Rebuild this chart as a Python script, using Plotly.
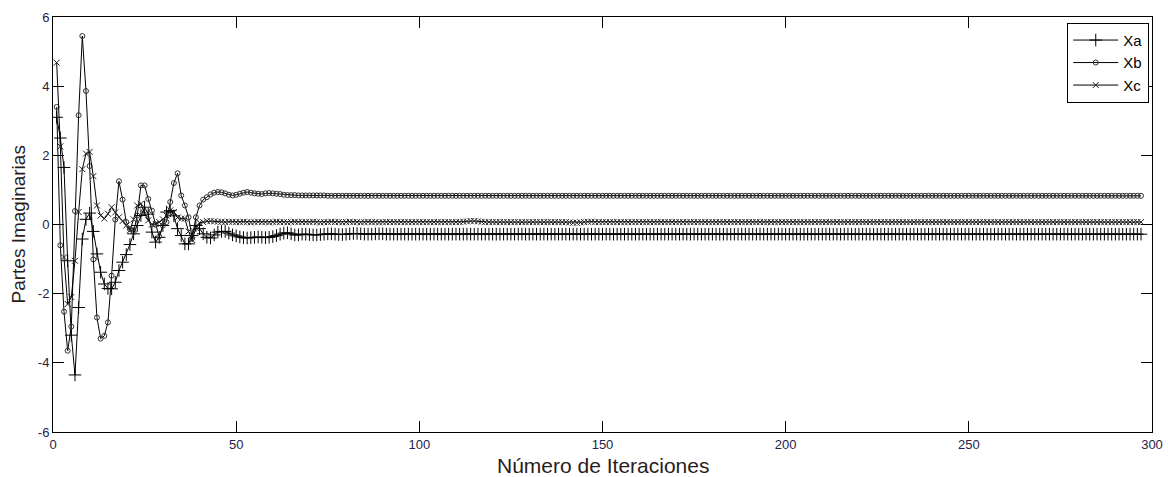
import plotly.graph_objects as go

# ---- data (iterations 1..297) ----
xa_vals = [
    3.1, 2.5, 1.65, -1.05, -3.2, -4.35, -2.4, -0.42, 0.15, 0.33,
    -0.2, -0.85, -1.38, -1.72, -1.85, -1.86, -1.67, -1.33, -1.09, -0.87,
    -0.58, -0.27, -0.03, 0.26, 0.5, 0.3, -0.22, -0.51, -0.37, -0.03,
    0.36, 0.4, 0.25, -0.12, -0.32, -0.56, -0.56, -0.32, -0.03, -0.12,
    -0.27, -0.37, -0.39, -0.3, -0.22, -0.2, -0.2, -0.25, -0.3, -0.33,
    -0.36, -0.38, -0.39, -0.38, -0.37, -0.36, -0.37, -0.38, -0.37, -0.35,
    -0.32, -0.28, -0.25, -0.24, -0.27, -0.3, -0.3, -0.28, -0.28, -0.29,
    -0.3, -0.3, -0.29, -0.28, -0.27, -0.27, -0.28, -0.29, -0.29, -0.28,
    -0.27, -0.26, -0.26, -0.27, -0.28, -0.28, -0.28, -0.27, -0.27, -0.27,
    -0.28, -0.28, -0.28, -0.28, -0.28, -0.28, -0.28, -0.28, -0.28, -0.28,
    -0.28, -0.28, -0.28, -0.28, -0.28, -0.28, -0.28, -0.28, -0.28, -0.28,
    -0.28, -0.28, -0.28, -0.28, -0.28, -0.28, -0.28, -0.28, -0.28, -0.28,
    -0.28, -0.28, -0.28, -0.28, -0.28, -0.28, -0.28, -0.28, -0.28, -0.28,
    -0.28, -0.28, -0.28, -0.28, -0.28, -0.28, -0.28, -0.28, -0.28, -0.28,
    -0.28, -0.28, -0.28, -0.28, -0.28, -0.28, -0.28, -0.28, -0.28, -0.28,
    -0.28, -0.28, -0.28, -0.28, -0.28, -0.28, -0.28, -0.28, -0.28, -0.28,
    -0.28, -0.28, -0.28, -0.28, -0.28, -0.28, -0.28, -0.28, -0.28, -0.28,
    -0.28, -0.28, -0.28, -0.28, -0.28, -0.28, -0.28, -0.28, -0.28, -0.28,
    -0.28, -0.28, -0.28, -0.28, -0.28, -0.28, -0.28, -0.28, -0.28, -0.28,
    -0.28, -0.28, -0.28, -0.28, -0.28, -0.28, -0.28, -0.28, -0.28, -0.28,
    -0.28, -0.28, -0.28, -0.28, -0.28, -0.28, -0.28, -0.28, -0.28, -0.28,
    -0.28, -0.28, -0.28, -0.28, -0.28, -0.28, -0.28, -0.28, -0.28, -0.28,
    -0.28, -0.28, -0.28, -0.28, -0.28, -0.28, -0.28, -0.28, -0.28, -0.28,
    -0.28, -0.28, -0.28, -0.28, -0.28, -0.28, -0.28, -0.28, -0.28, -0.28,
    -0.28, -0.28, -0.28, -0.28, -0.28, -0.28, -0.28, -0.28, -0.28, -0.28,
    -0.28, -0.28, -0.28, -0.28, -0.28, -0.28, -0.28, -0.28, -0.28, -0.28,
    -0.28, -0.28, -0.28, -0.28, -0.28, -0.28, -0.28, -0.28, -0.28, -0.28,
    -0.28, -0.28, -0.28, -0.28, -0.28, -0.28, -0.28, -0.28, -0.28, -0.28,
    -0.28, -0.28, -0.28, -0.28, -0.28, -0.28, -0.28, -0.28, -0.28, -0.28,
    -0.28, -0.28, -0.28, -0.28, -0.28, -0.28, -0.28,
]

xb_vals = [
    3.4, -0.6, -2.52, -3.65, -2.95, 0.39, 3.16, 5.45, 3.86, 1.69,
    -1.01, -2.69, -3.3, -3.22, -2.83, -1.48, 0.14, 1.25, 0.72, 0.07,
    -0.13, -0.22, 0.26, 1.13, 1.13, 0.74, 0.4, 0.0, -0.35, -0.03,
    0.07, 0.65, 1.2, 1.48, 0.84, 0.55, 0.21, -0.4, 0.21, 0.55,
    0.72, 0.79, 0.87, 0.92, 0.94, 0.93, 0.9, 0.86, 0.84, 0.86,
    0.89, 0.92, 0.94, 0.92, 0.9, 0.89, 0.88, 0.9, 0.91, 0.9,
    0.89, 0.88, 0.86, 0.85, 0.85, 0.85, 0.84, 0.84, 0.84, 0.84,
    0.84, 0.84, 0.84, 0.84, 0.83, 0.83, 0.83, 0.83, 0.83, 0.83,
    0.83, 0.83, 0.83, 0.83, 0.83, 0.83, 0.83, 0.83, 0.83, 0.83,
    0.83, 0.83, 0.83, 0.83, 0.83, 0.83, 0.83, 0.83, 0.83, 0.83,
    0.83, 0.83, 0.83, 0.83, 0.83, 0.83, 0.83, 0.83, 0.83, 0.83,
    0.83, 0.83, 0.83, 0.83, 0.83, 0.83, 0.83, 0.83, 0.83, 0.83,
    0.83, 0.83, 0.83, 0.83, 0.83, 0.83, 0.83, 0.83, 0.83, 0.83,
    0.83, 0.83, 0.83, 0.83, 0.83, 0.83, 0.83, 0.83, 0.83, 0.83,
    0.83, 0.83, 0.83, 0.83, 0.83, 0.83, 0.83, 0.83, 0.83, 0.83,
    0.83, 0.83, 0.83, 0.83, 0.83, 0.83, 0.83, 0.83, 0.83, 0.83,
    0.83, 0.83, 0.83, 0.83, 0.83, 0.83, 0.83, 0.83, 0.83, 0.83,
    0.83, 0.83, 0.83, 0.83, 0.83, 0.83, 0.83, 0.83, 0.83, 0.83,
    0.83, 0.83, 0.83, 0.83, 0.83, 0.83, 0.83, 0.83, 0.83, 0.83,
    0.83, 0.83, 0.83, 0.83, 0.83, 0.83, 0.83, 0.83, 0.83, 0.83,
    0.83, 0.83, 0.83, 0.83, 0.83, 0.83, 0.83, 0.83, 0.83, 0.83,
    0.83, 0.83, 0.83, 0.83, 0.83, 0.83, 0.83, 0.83, 0.83, 0.83,
    0.83, 0.83, 0.83, 0.83, 0.83, 0.83, 0.83, 0.83, 0.83, 0.83,
    0.83, 0.83, 0.83, 0.83, 0.83, 0.83, 0.83, 0.83, 0.83, 0.83,
    0.83, 0.83, 0.83, 0.83, 0.83, 0.83, 0.83, 0.83, 0.83, 0.83,
    0.83, 0.83, 0.83, 0.83, 0.83, 0.83, 0.83, 0.83, 0.83, 0.83,
    0.83, 0.83, 0.83, 0.83, 0.83, 0.83, 0.83, 0.83, 0.83, 0.83,
    0.83, 0.83, 0.83, 0.83, 0.83, 0.83, 0.83, 0.83, 0.83, 0.83,
    0.83, 0.83, 0.83, 0.83, 0.83, 0.83, 0.83, 0.83, 0.83, 0.83,
    0.83, 0.83, 0.83, 0.83, 0.83, 0.83, 0.83,
]

xc_vals = [
    4.68, 2.26, -0.95, -2.3, -2.1, -1.05, 0.36, 1.6, 2.05, 2.1,
    1.4, 0.55, 0.26, 0.17, 0.31, 0.5, 0.35, 0.21, 0.1, -0.03,
    -0.17, 0.15, 0.55, 0.6, 0.31, 0.12, 0.0, 0.02, 0.07, 0.15,
    0.26, 0.41, 0.36, 0.2, 0.17, 0.17, -0.2, -0.45, -0.1, 0.05,
    0.07, 0.1, 0.1, 0.09, 0.08, 0.08, 0.07, 0.08, 0.08, 0.07,
    0.07, 0.08, 0.07, 0.06, 0.07, 0.08, 0.07, 0.07, 0.06, 0.07,
    0.08, 0.07, 0.07, 0.06, 0.07, 0.08, 0.07, 0.07, 0.07, 0.07,
    0.08, 0.07, 0.06, 0.07, 0.07, 0.08, 0.07, 0.07, 0.06, 0.07,
    0.08, 0.07, 0.07, 0.06, 0.07, 0.08, 0.07, 0.07, 0.06, 0.07,
    0.07, 0.07, 0.07, 0.07, 0.07, 0.07, 0.07, 0.07, 0.07, 0.07,
    0.07, 0.07, 0.07, 0.07, 0.07, 0.07, 0.07, 0.07, 0.07, 0.07,
    0.07, 0.08, 0.09, 0.1, 0.1, 0.09, 0.08, 0.07, 0.07, 0.07,
    0.07, 0.07, 0.07, 0.07, 0.07, 0.07, 0.07, 0.07, 0.07, 0.07,
    0.07, 0.07, 0.07, 0.07, 0.07, 0.07, 0.07, 0.07, 0.07, 0.07,
    0.06, 0.05, 0.05, 0.06, 0.07, 0.08, 0.08, 0.07, 0.07, 0.07,
    0.07, 0.07, 0.07, 0.07, 0.07, 0.07, 0.07, 0.07, 0.07, 0.07,
    0.07, 0.07, 0.07, 0.07, 0.07, 0.07, 0.07, 0.07, 0.07, 0.07,
    0.07, 0.07, 0.07, 0.07, 0.07, 0.07, 0.07, 0.07, 0.07, 0.07,
    0.07, 0.07, 0.07, 0.07, 0.07, 0.07, 0.07, 0.07, 0.07, 0.07,
    0.07, 0.07, 0.07, 0.07, 0.07, 0.07, 0.07, 0.07, 0.07, 0.07,
    0.07, 0.07, 0.07, 0.07, 0.07, 0.07, 0.07, 0.07, 0.07, 0.07,
    0.07, 0.07, 0.07, 0.07, 0.07, 0.07, 0.07, 0.07, 0.07, 0.07,
    0.07, 0.07, 0.07, 0.07, 0.07, 0.07, 0.07, 0.07, 0.07, 0.07,
    0.07, 0.07, 0.07, 0.07, 0.07, 0.07, 0.07, 0.07, 0.07, 0.07,
    0.07, 0.07, 0.07, 0.07, 0.07, 0.07, 0.07, 0.07, 0.07, 0.07,
    0.07, 0.07, 0.07, 0.07, 0.07, 0.07, 0.07, 0.07, 0.07, 0.07,
    0.07, 0.07, 0.07, 0.07, 0.07, 0.07, 0.07, 0.07, 0.07, 0.07,
    0.07, 0.07, 0.07, 0.07, 0.07, 0.07, 0.07, 0.07, 0.07, 0.07,
    0.07, 0.07, 0.07, 0.07, 0.07, 0.07, 0.07, 0.07, 0.07, 0.07,
    0.07, 0.07, 0.07, 0.07, 0.07, 0.07, 0.07,
]

series_names = ["Xa", "Xb", "Xc"]
x_ticks = [0, 50, 100, 150, 200, 250, 300]
y_ticks = [-6, -4, -2, 0, 2, 4, 6]
x_title = "Número de Iteraciones"
y_title = "Partes Imaginarias"

FONT = "Liberation Sans, Arial, sans-serif"
TICK_COLOR = "#23234a"
TITLE_COLOR = "#2a1c1c"

fig = go.Figure()

styles = [
    dict(symbol="cross-thin-open", size=9, color="#000000"),
    dict(symbol="circle-open", size=5, color="#303030"),
    dict(symbol="x-thin-open", size=6, color="#202020"),
]

for name, vals, st in zip(series_names, [xa_vals, xb_vals, xc_vals], styles):
    it = list(range(1, len(vals) + 1))
    fig.add_trace(go.Scatter(
        x=it, y=vals, name=name, mode="lines+markers",
        line=dict(color="#000000", width=1),
        marker=dict(symbol=st["symbol"], size=st["size"], color=st["color"],
                    line=dict(width=1, color=st["color"])),
    ))

fig.update_layout(
    width=1168, height=477,
    margin=dict(l=53, r=16, t=17, b=45, autoexpand=False),
    paper_bgcolor="white", plot_bgcolor="white",
    font=dict(family=FONT, color=TICK_COLOR),
    showlegend=True,
    legend=dict(
        x=0.9975, xanchor="right", y=0.986, yanchor="top",
        bgcolor="white", bordercolor="#000000", borderwidth=1,
        font=dict(family=FONT, size=15, color="#000000"),
        tracegroupgap=0, itemwidth=45,
    ),
    annotations=[
        dict(text=x_title, xref="paper", yref="paper", x=0.5, y=-0.0,
             yshift=-33, xanchor="center", yanchor="middle", showarrow=False,
             font=dict(family=FONT, size=21, color=TITLE_COLOR)),
        dict(text=y_title, xref="paper", yref="paper", x=0.0, y=0.5,
             xshift=-35, xanchor="center", yanchor="middle", showarrow=False,
             textangle=-90,
             font=dict(family=FONT, size=19, color=TITLE_COLOR)),
    ],
)

fig.update_xaxes(
    range=[0, 300], tickvals=x_ticks, ticktext=[str(v) for v in x_ticks],
    showgrid=False, zeroline=False, automargin=False,
    showline=True, linecolor="#000000", linewidth=1, mirror="ticks",
    ticks="inside", ticklen=11, tickcolor="#000000", tickwidth=1,
    tickfont=dict(family=FONT, size=13, color=TICK_COLOR),
)
fig.update_yaxes(
    range=[-6, 6], tickvals=y_ticks, ticktext=[str(v) for v in y_ticks],
    showgrid=False, zeroline=False, automargin=False,
    showline=True, linecolor="#000000", linewidth=1, mirror="ticks",
    ticks="inside", ticklen=11, tickcolor="#000000", tickwidth=1,
    tickfont=dict(family=FONT, size=13, color=TICK_COLOR),
)

fig.write_html("out.html")
